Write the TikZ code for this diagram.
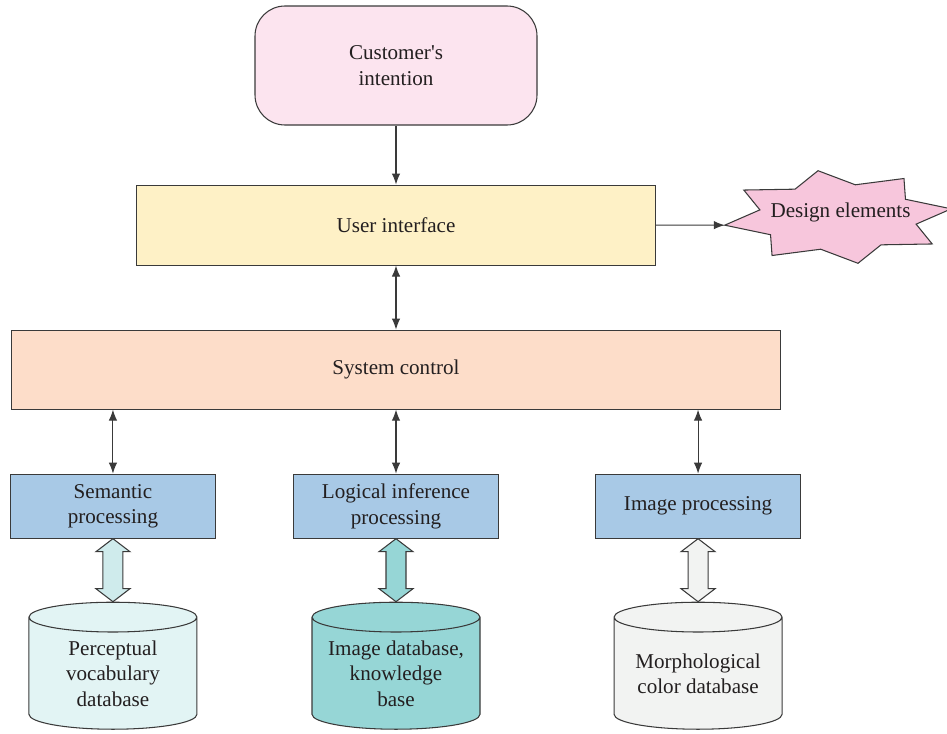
\documentclass[tikz,border=0pt]{standalone}
\usepackage{fontspec}
\setmainfont{Liberation Serif}
\usetikzlibrary{positioning,shapes.geometric,arrows.meta,calc}

\definecolor{linegray}{HTML}{3A3A3A}
\definecolor{textgray}{HTML}{231F20}
\definecolor{custpink}{HTML}{FCE4EF}
\definecolor{uiyellow}{HTML}{FEF1C6}
\definecolor{starpink}{HTML}{F7C6DC}
\definecolor{syspeach}{HTML}{FDDDC9}
\definecolor{procblue}{HTML}{A8C9E6}
\definecolor{semcyan}{HTML}{E2F4F4}
\definecolor{semarrow}{HTML}{CFEBEC}
\definecolor{logteal}{HTML}{96D6D6}
\definecolor{morphgray}{HTML}{F2F3F2}

\tikzset{
  box/.style={rectangle, draw=linegray, line width=0.6pt, align=center,
    text=textgray, font=\fontsize{12}{14.5}\selectfont},
  proc/.style={box, fill=procblue, minimum width=4.1cm, minimum height=1.28cm},
  db/.style={cylinder, shape border rotate=90, draw=linegray, line width=0.6pt,
    aspect=0.19, minimum width=3.36cm, minimum height=2.54cm, text width=2.9cm},
  dbtext/.style={align=center, text=textgray, yshift=0.05cm,
    font=\fontsize{12}{14.5}\selectfont},
  arr/.style={-{Latex[length=2.2mm,width=1.7mm]}, draw=linegray, line width=0.6pt},
  dbl/.style={{Latex[length=2.2mm,width=1.7mm]}-{Latex[length=2.2mm,width=1.7mm]},
    draw=linegray, line width=0.6pt}
}

% hollow double arrow between a box and its database
\newcommand{\fatarrow}[3]{%
  \draw[draw=linegray, line width=0.6pt, fill=#3] (#1) -- ++(0.34,-0.26) -- ++(-0.14,0)
    -- ($(#2)+(0.2,0.26)$) -- ++(0.14,0) -- (#2) -- ++(-0.34,0.26) -- ++(0.14,0)
    -- ($(#1)+(-0.2,-0.26)$) -- ++(-0.14,0) -- cycle;}

\begin{document}
\begin{tikzpicture}
  \useasboundingbox (0,0) rectangle (18.94,-14.66);

  \node[box, rounded corners=0.6cm, fill=custpink, minimum width=5.64cm,
    minimum height=2.38cm] (cust) at (7.92,-1.31) {Customer\textquotesingle s\\intention};
  \node[box, fill=uiyellow, minimum width=10.38cm, minimum height=1.6cm,
    below=1.18cm of cust] (ui) {User interface};
  \node[box, fill=syspeach, minimum width=15.38cm, minimum height=1.58cm,
    below=1.28cm of ui] (sys) {System control};

  \node[proc, below=1.28cm of sys] (logi) {Logical inference\\processing};
  \node[proc, left=1.54cm of logi] (sem) {Semantic\\processing};
  \node[proc, right=1.92cm of logi] (imgp) {Image processing};

  \node[db, fill=semcyan, below=1.26cm of sem,
    label={[dbtext]center:Perceptual\\vocabulary\\database}] (semdb) {};
  \node[db, fill=logteal, below=1.26cm of logi,
    label={[dbtext]center:Image database,\\knowledge\\base}] (logdb) {};
  \node[db, fill=morphgray, below=1.26cm of imgp,
    label={[dbtext]center:Morphological\\color database}] (morphdb) {};

  % star
  \coordinate (starc) at (16.76,-4.34);
  \coordinate (tip) at ($(starc)+(190:2.3cm and 0.94cm)$);
  \draw[draw=linegray, line width=0.6pt, fill=starpink] (tip)
    \foreach \k [evaluate=\k as \rx using {mod(\k,2)==1 ? 1.6 : 2.3},
                 evaluate=\k as \ry using {mod(\k,2)==1 ? 0.66 : 0.94}] in {1,...,15}
      { -- ($(starc)+({190+22.5*\k}:\rx cm and \ry cm)$) } -- cycle;
  \node[text=textgray, font=\fontsize{12}{14.5}\selectfont] (design) at (16.81,-4.24) {Design elements};

  % connectors
  \draw[arr] (cust) -- (ui);
  \draw[arr] (ui.east) -- (tip);
  \draw[dbl] (ui) -- (sys);
  \foreach \p in {sem, logi, imgp}
    \draw[dbl] (sys.south -| \p.north) -- (\p.north);

  \fatarrow{sem.south}{semdb.north}{semarrow}
  \fatarrow{logi.south}{logdb.north}{logteal}
  \fatarrow{imgp.south}{morphdb.north}{morphgray}
\end{tikzpicture}
\end{document}
